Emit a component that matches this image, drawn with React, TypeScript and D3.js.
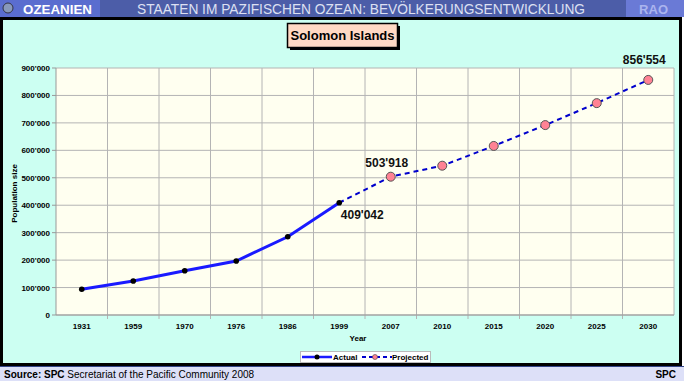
import React from "react";
import * as d3 from "d3";

const categories = ["1931", "1959", "1970", "1976", "1986", "1999", "2007", "2010", "2015", "2020", "2025", "2030"];
const actualYears = ["1931", "1959", "1970", "1976", "1986", "1999"];
const actualValues = [94066, 124076, 160998, 196823, 285176, 409042];
const projectedYears = ["1999", "2007", "2010", "2015", "2020", "2025", "2030"];
const projectedValues = [409042, 503918, 544000, 616000, 692000, 772000, 856554];
const yTicks = [0, 100000, 200000, 300000, 400000, 500000, 600000, 700000, 800000, 900000];
const annotations = [
  { year: "1999", value: 409042, label: "409'042", dx: 23, dy: 12 },
  { year: "2007", value: 503918, label: "503'918", dx: -4, dy: -14 },
  { year: "2030", value: 856554, label: "856'554", dx: -4, dy: -20 },
];

const fmt = (v: number) => {
  if (v === 0) return "0";
  const s = String(v);
  return s.replace(/\B(?=(\d{3})+(?!\d))/g, "'");
};

export default function App() {
  const W = 684, H = 381;
  const left = 56, right = 674, top = 68, bottom = 315;
  const x = d3.scaleBand().domain(categories).range([left, right]);
  const y = d3.scaleLinear().domain([0, 900000]).range([bottom, top]);
  const cx = (c: string) => (x(c) as number) + x.bandwidth() / 2;
  const line = d3.line<[string, number]>().x((d) => cx(d[0])).y((d) => y(d[1]));
  const actual = actualYears.map((c, i) => [c, actualValues[i]] as [string, number]);
  const projected = projectedYears.map((c, i) => [c, projectedValues[i]] as [string, number]);
  const font = "Arial, 'Liberation Sans', sans-serif";

  return (
    <svg width={W} height={H} style={{ position: "absolute", left: 0, top: 0 }} fontFamily={font}>
      {/* header */}
      <rect x={0} y={0} width={W} height={17} fill="#4c5da8" />
      <rect x={0} y={0} width={100} height={17} fill="#5a6dcf" />
      <rect x={626} y={0} width={58} height={17} fill="#6a7ad6" />
      <circle cx={8} cy={8} r={5} fill="#8899bb" stroke="#334" strokeWidth={1} />
      <text x={23} y={14} fontSize={13} fontWeight="bold" fill="#ffffff" textLength={69} lengthAdjust="spacingAndGlyphs">OZEANIEN</text>
      <text x={361} y={14} fontSize={14} fill="#dde0f2" textAnchor="middle" textLength={448} lengthAdjust="spacingAndGlyphs">STAATEN IM PAZIFISCHEN OZEAN: BEVÖLKERUNGSENTWICKLUNG</text>
      <text x={668} y={14} fontSize={13} fontWeight="bold" fill="#aab4ee" textAnchor="end">RAO</text>

      {/* frame */}
      <rect x={1.5} y={18.5} width={679} height={346} fill="#ccfff2" stroke="#000" strokeWidth={3} />
      {/* footer */}
      <rect x={0} y={366} width={W} height={15} fill="#dde0f8" />
      <line x1={0} x2={W} y1={366.5} y2={366.5} stroke="#334488" strokeWidth={1} />
      <text x={4} y={378} fontSize={10} fill="#000">
        <tspan fontWeight="bold">Source: SPC</tspan> Secretariat of the Pacific Community 2008
      </text>
      <text x={676} y={378} fontSize={10} fill="#000" fontWeight="bold" textAnchor="end">SPC</text>

      {/* plot area */}
      <rect x={left} y={top} width={right - left} height={bottom - top} fill="#fffff0" />
      {yTicks.map((t) => (
        <line key={t} x1={left} x2={right} y1={y(t)} y2={y(t)} stroke="#b4b4b4" strokeWidth={1} />
      ))}
      {categories.slice(1).map((c) => (
        <line key={c} x1={x(c)} x2={x(c)} y1={top} y2={bottom + 4} stroke="#b4b4b4" strokeWidth={1} />
      ))}
      <line x1={right} x2={right} y1={top} y2={bottom} stroke="#b4b4b4" />
      <line x1={left} x2={left} y1={top} y2={bottom} stroke="#999" strokeWidth={1} />
      <line x1={left} x2={right} y1={bottom} y2={bottom} stroke="#999" strokeWidth={1} />
      {yTicks.map((t) => (
        <g key={"yt" + t}>
          <line x1={left - 4} x2={left} y1={y(t)} y2={y(t)} stroke="#999" />
          <text x={left - 6} y={y(t) + 3} fontSize={8} fontWeight="bold" textAnchor="end" fill="#000">{fmt(t)}</text>
        </g>
      ))}
      {categories.map((c) => (
        <text key={"xt" + c} x={cx(c)} y={329} fontSize={8} fontWeight="bold" textAnchor="middle" fill="#000">{c}</text>
      ))}
      <text x={358} y={341} fontSize={8} fontWeight="bold" textAnchor="middle">Year</text>
      <text transform={`translate(17,${(top + bottom) / 2 + 2}) rotate(-90)`} fontSize={8} fontWeight="bold" textAnchor="middle">Population size</text>

      {/* lines */}
      <path d={line(projected) || ""} fill="none" stroke="#0000cc" strokeWidth={2} strokeDasharray="5,4" />
      <path d={line(actual) || ""} fill="none" stroke="#1a1aff" strokeWidth={3} />
      {actual.map((d) => (
        <circle key={"a" + d[0]} cx={cx(d[0])} cy={y(d[1])} r={2.8} fill="#000" />
      ))}
      {projected.slice(1).map((d) => (
        <circle key={"p" + d[0]} cx={cx(d[0])} cy={y(d[1])} r={4.5} fill="#ff8294" stroke="#555" strokeWidth={1} />
      ))}
      {annotations.map((a) => (
        <text key={a.label} x={cx(a.year) + a.dx} y={y(a.value) + a.dy + 4} fontSize={12} fontWeight="bold" textAnchor="middle" fill="#111">{a.label}</text>
      ))}

      {/* title box */}
      <rect x={290} y={26} width={110} height={24} fill="#000" />
      <rect x={287.5} y={23.5} width={110} height={24} fill="#ffd9c4" stroke="#000" strokeWidth={1.5} />
      <text x={342.5} y={40} fontSize={13} fontWeight="bold" textAnchor="middle" fill="#000">Solomon Islands</text>

      {/* legend */}
      <rect x={300.5} y={351.5} width={130} height={11} fill="#fff" stroke="#bbb" strokeWidth={1} />
      <line x1={302} x2={332} y1={357} y2={357} stroke="#1a1aff" strokeWidth={2.5} />
      <circle cx={317} cy={357} r={2.5} fill="#000" />
      <text x={333} y={360} fontSize={8} fontWeight="bold">Actual</text>
      <line x1={362} x2={392} y1={357} y2={357} stroke="#0000cc" strokeWidth={2} strokeDasharray="4,3" />
      <circle cx={375} cy={357} r={2.5} fill="#ff8294" stroke="#555" strokeWidth={0.7} />
      <text x={392} y={360} fontSize={8} fontWeight="bold">Projected</text>
    </svg>
  );
}
